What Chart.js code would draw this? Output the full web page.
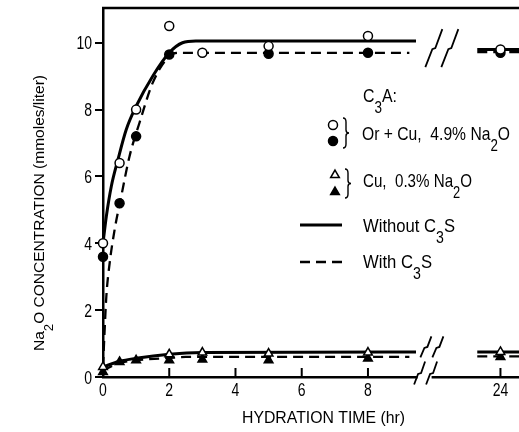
<!DOCTYPE html>
<html>
<head>
<meta charset="utf-8">
<script src="https://cdn.jsdelivr.net/npm/chart.js@4.4.0/dist/chart.umd.min.js"></script>
<style>
  body { margin: 0; background: #fff; }
  #wrap { width: 519px; height: 432px; position: relative; }
</style>
</head>
<body>
<div id="wrap"><canvas id="chart"></canvas></div>
<script>
// hours past the axis break are pulled back by 12 (24 h sits where 12 would be)
const BREAK_AT = 10;
const BREAK_SHIFT = 12;
const pos = (h) => (h > BREAK_AT ? h - BREAK_SHIFT : h);

// tick labels
const xTickHours = [0, 2, 4, 6, 8, 24];
const yTicks = [0, 2, 4, 6, 8, 10];

// measured points : Or + Cu, 4.9% Na2O
const hoursOpenCircle = [0, 0.5, 1, 2, 3, 5, 8, 24];
const naOpenCircle = [4.0, 6.4, 8.0, 10.5, 9.7, 9.9, 10.2, 9.8];
const hoursFilledCircle = [0, 0.5, 1, 2, 5, 8, 24];
const naFilledCircle = [3.6, 5.2, 7.2, 9.65, 9.67, 9.7, 9.7];

// measured points : Cu, 0.3% Na2O
const hoursOpenTriangle = [0, 2, 3, 5, 8, 24];
const naOpenTriangle = [0.3, 0.68, 0.73, 0.7, 0.73, 0.75];
const hoursFilledTriangle = [0, 0.5, 1, 2, 3, 5, 8, 24];
const naFilledTriangle = [0.15, 0.45, 0.5, 0.5, 0.52, 0.5, 0.55, 0.6];

// fitted curves, without C3S (solid)
const hoursSolidHigh = [0, 0.1, 0.25, 0.45, 0.7, 1, 1.5, 2, 2.4, 2.8, 9.45];
const naSolidHigh = [4.0, 4.8, 5.7, 6.5, 7.4, 8.1, 9.0, 9.7, 10.0, 10.05, 10.05];
const hoursSolidLow = [0, 0.5, 1, 2, 3, 9.45];
const naSolidLow = [0.3, 0.47, 0.56, 0.68, 0.73, 0.75];

// fitted curves, with C3S (dashed)
const hoursDashedHigh = [0, 0.04, 0.1, 0.2, 0.35, 0.55, 0.8, 1.1, 1.5, 2, 2.3, 9.25];
const naDashedHigh = [0.3, 1.2, 2.4, 3.4, 4.4, 5.4, 6.6, 7.6, 8.8, 9.6, 9.7, 9.7];
const hoursDashedLow = [0, 0.5, 1, 2, 2.5, 9.25];
const naDashedLow = [0.2, 0.42, 0.5, 0.57, 0.6, 0.6];

// short pieces after the break
const hoursAfter = [23.3, 24.6];
const naSolidHighAfter = [9.8, 9.8];
const naDashedHighAfter = [9.72, 9.72];
const naSolidLowAfter = [0.75, 0.75];
const naDashedLowAfter = [0.62, 0.62];

const FONT = '"Liberation Sans", Arial, sans-serif';
const NARROW = 0.8; // horizontal squeeze, the original type is a condensed face

function pts(hours, vals) {
  return hours.map((h, i) => ({ x: pos(h), y: vals[i] }));
}

function markers(hours, vals, style, filled) {
  return {
    data: pts(hours, vals),
    showLine: false,
    pointStyle: style,
    pointRadius: style === 'triangle' ? 5 : 4.5,
    pointBorderWidth: 1.5,
    pointBorderColor: '#000',
    pointBackgroundColor: filled ? '#000' : '#fff',
    clip: false,
    order: 0,
  };
}

function curve(hours, vals, dashed) {
  return {
    data: pts(hours, vals),
    showLine: true,
    pointRadius: 0,
    borderColor: '#000',
    borderWidth: dashed ? 2.3 : 3,
    borderDash: dashed ? [10, 6] : [],
    cubicInterpolationMode: 'monotone',
    clip: false,
    order: 1,
  };
}

// width of text with subscripts : parts = [[text, isSub], ...]
function richWidth(ctx, parts, size) {
  let w = 0;
  parts.forEach(([txt, sub]) => {
    ctx.font = `${sub ? size * 0.85 : size}px ${FONT}`;
    w += ctx.measureText(txt).width;
  });
  return w;
}

// draws at (x, y) baseline-left; squeezed to `width` if given, else NARROW
function drawRich(ctx, parts, x, y, size, width) {
  const natural = richWidth(ctx, parts, size);
  const sx = width ? width / natural : NARROW;
  ctx.save();
  ctx.translate(x, y);
  ctx.scale(sx, 1);
  ctx.textAlign = 'left';
  ctx.textBaseline = 'alphabetic';
  let cx = 0;
  parts.forEach(([txt, sub]) => {
    ctx.font = `${sub ? size * 0.85 : size}px ${FONT}`;
    ctx.fillText(txt, cx, sub ? size * 0.6 : 0);
    cx += ctx.measureText(txt).width;
  });
  ctx.restore();
}

function drawLabel(ctx, txt, x, y, size, align) {
  ctx.save();
  ctx.translate(x, y);
  ctx.scale(NARROW, 1);
  ctx.font = `${size}px ${FONT}`;
  ctx.textAlign = align;
  ctx.textBaseline = 'alphabetic';
  ctx.fillText(txt, 0, 0);
  ctx.restore();
}

function circleMark(ctx, x, y, filled) {
  ctx.beginPath();
  ctx.arc(x, y, 4.5, 0, Math.PI * 2);
  ctx.fillStyle = filled ? '#000' : '#fff';
  ctx.fill();
  ctx.lineWidth = 1.5;
  ctx.stroke();
}

function triangleMark(ctx, x, y, filled) {
  const r = 5;
  ctx.beginPath();
  for (let i = 0; i < 3; i++) {
    const a = (i * 2 * Math.PI) / 3;
    const px = x + Math.sin(a) * r;
    const py = y - Math.cos(a) * r;
    if (i === 0) ctx.moveTo(px, py); else ctx.lineTo(px, py);
  }
  ctx.closePath();
  ctx.fillStyle = filled ? '#000' : '#fff';
  ctx.fill();
  ctx.lineWidth = 1.5;
  ctx.stroke();
}

function brace(ctx, x, top, bottom) {
  const mid = (top + bottom) / 2;
  ctx.beginPath();
  ctx.moveTo(x, top);
  ctx.quadraticCurveTo(x + 3, top, x + 3, top + 4);
  ctx.lineTo(x + 3, mid - 3);
  ctx.quadraticCurveTo(x + 3, mid, x + 6, mid);
  ctx.quadraticCurveTo(x + 3, mid, x + 3, mid + 3);
  ctx.lineTo(x + 3, bottom - 4);
  ctx.quadraticCurveTo(x + 3, bottom, x, bottom);
  ctx.lineWidth = 1.4;
  ctx.stroke();
}

// pair of slanted break strokes centred on (cx, cy)
function breakMark(ctx, cx, cy, w, h, gap) {
  ctx.lineWidth = 1.8;
  [-gap / 2, gap / 2].forEach((dx) => {
    const x = cx + dx;
    ctx.beginPath();
    ctx.moveTo(x - w / 2, cy + h / 2);
    ctx.lineTo(x - 1.5, cy + 1);
    ctx.lineTo(x + 1.5, cy);
    ctx.lineTo(x + w / 2, cy - h / 2);
    ctx.stroke();
  });
}

const decorations = {
  id: 'decorations',
  afterDraw(chart) {
    const { ctx, chartArea } = chart;
    const xs = chart.scales.x;
    const ys = chart.scales.y;
    ctx.save();
    ctx.strokeStyle = '#000';
    ctx.fillStyle = '#000';
    ctx.lineCap = 'butt';

    // top frame
    ctx.lineWidth = 2.5;
    ctx.beginPath();
    ctx.moveTo(chartArea.left - 1, chartArea.top);
    ctx.lineTo(chartArea.right, chartArea.top);
    ctx.stroke();

    // inward x ticks
    ctx.lineWidth = 2;
    xTickHours.slice(1).forEach((h) => {
      const px = xs.getPixelForValue(pos(h));
      ctx.beginPath();
      ctx.moveTo(px, chartArea.bottom);
      ctx.lineTo(px, chartArea.bottom - 9);
      ctx.stroke();
    });

    // tick labels
    xTickHours.forEach((h) => {
      drawLabel(ctx, String(h), xs.getPixelForValue(pos(h)), chartArea.bottom + 19, 17.5, 'center');
    });
    yTicks.forEach((v) => {
      drawLabel(ctx, String(v), chartArea.left - 11, ys.getPixelForValue(v) + 6.5, 17.5, 'right');
    });

    // axis breaks
    const axisX = xs.getPixelForValue(9.74);
    ctx.fillStyle = '#fff';
    ctx.fillRect(axisX - 8, chartArea.bottom - 3, 14, 6);
    ctx.fillStyle = '#000';
    breakMark(ctx, axisX, ys.getPixelForValue(0.12), 11, 23, 12);
    breakMark(ctx, xs.getPixelForValue(9.93), ys.getPixelForValue(0.9), 11, 21, 12);
    breakMark(ctx, xs.getPixelForValue(10.23), ys.getPixelForValue(9.84), 17, 38, 16);

    // axis titles
    drawRich(ctx, [['HYDRATION TIME (hr)', false]], 242, 423, 16.3, 163);

    ctx.save();
    ctx.translate(44, 351);
    ctx.rotate(-Math.PI / 2);
    drawRich(ctx, [['Na', false], ['2', true], ['O CONCENTRATION (mmoles/liter)', false]], 0, 0, 15.5, 276);
    ctx.restore();

    // legend
    drawRich(ctx, [['C', false], ['3', true], ['A:', false]], 363, 102, 19, 34);

    circleMark(ctx, 333, 125, false);
    circleMark(ctx, 333, 141, true);
    brace(ctx, 343, 118, 148);
    drawRich(ctx, [['Or + Cu,  4.9% Na', false], ['2', true], ['O', false]], 362, 140, 18.5, 148);

    triangleMark(ctx, 335, 175, false);
    triangleMark(ctx, 335, 192, true);
    brace(ctx, 345, 169, 198);
    drawRich(ctx, [['Cu,  0.3% Na', false], ['2', true], ['O', false]], 363, 187, 18.5, 109);

    ctx.lineWidth = 3;
    ctx.beginPath();
    ctx.moveTo(300, 225);
    ctx.lineTo(342, 225);
    ctx.stroke();
    drawRich(ctx, [['Without C', false], ['3', true], ['S', false]], 363, 232, 18.5, 92);

    ctx.lineWidth = 2.5;
    ctx.setLineDash([10, 6]);
    ctx.beginPath();
    ctx.moveTo(300, 262);
    ctx.lineTo(342, 262);
    ctx.stroke();
    ctx.setLineDash([]);
    drawRich(ctx, [['With C', false], ['3', true], ['S', false]], 363, 268, 18.5, 69);

    ctx.restore();
  },
};

new Chart(document.getElementById('chart'), {
  type: 'scatter',
  data: {
    datasets: [
      markers(hoursOpenCircle, naOpenCircle, 'circle', false),
      markers(hoursFilledCircle, naFilledCircle, 'circle', true),
      markers(hoursOpenTriangle, naOpenTriangle, 'triangle', false),
      markers(hoursFilledTriangle, naFilledTriangle, 'triangle', true),
      curve(hoursSolidHigh, naSolidHigh, false),
      curve(hoursDashedHigh, naDashedHigh, true),
      curve(hoursSolidLow, naSolidLow, false),
      curve(hoursDashedLow, naDashedLow, true),
      curve(hoursAfter, naSolidHighAfter, false),
      curve(hoursAfter, naDashedHighAfter, true),
      curve(hoursAfter, naSolidLowAfter, false),
      curve(hoursAfter, naDashedLowAfter, true),
    ],
  },
  options: {
    responsive: true,
    maintainAspectRatio: false,
    animation: false,
    layout: { autoPadding: false, padding: { top: 8, left: 0, right: 0, bottom: 0 } },
    plugins: {
      legend: { display: false },
      tooltip: { enabled: false },
    },
    scales: {
      x: {
        type: 'linear',
        min: 0,
        max: 12.56,
        afterFit: (scale) => { scale.height = 55; },
        afterBuildTicks: (scale) => {
          scale.ticks = xTickHours.map((h) => ({ value: pos(h) }));
        },
        ticks: { display: false },
        grid: { display: true, drawOnChartArea: false, drawTicks: false },
        border: { display: true, color: '#000', width: 2.5 },
      },
      y: {
        min: 0,
        max: 11.04,
        afterFit: (scale) => { scale.width = 103; },
        afterBuildTicks: (scale) => {
          scale.ticks = yTicks.map((v) => ({ value: v }));
        },
        ticks: { display: false },
        grid: { drawOnChartArea: false, drawTicks: true, tickLength: 8, color: '#000', lineWidth: 2 },
        border: { display: true, color: '#000', width: 2.5 },
      },
    },
  },
  plugins: [decorations],
});
</script>
</body>
</html>
